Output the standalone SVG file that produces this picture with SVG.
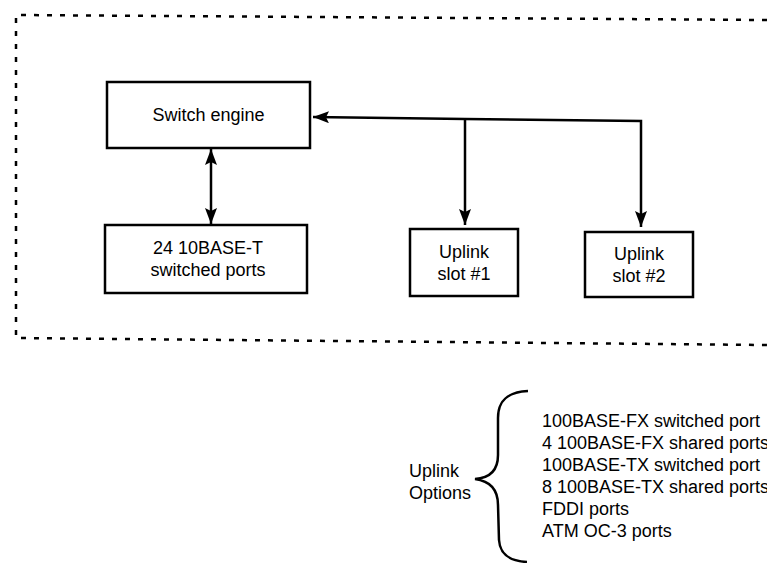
<svg xmlns="http://www.w3.org/2000/svg" width="767" height="563" viewBox="0 0 767 563">
<defs>
<marker id="ah" viewBox="0 0 16 12" refX="16" refY="6" markerWidth="16" markerHeight="12" markerUnits="userSpaceOnUse" orient="auto-start-reverse">
<path d="M0,0 L16,6 L0,12 L3,6 Z" fill="#000"/>
</marker>
<style>
.box{fill:#fff;stroke:#000;stroke-width:2.5}
.t{font-family:"Liberation Sans",Arial,sans-serif;font-size:18px;fill:#000}
.c{text-anchor:middle}
.ln{fill:none;stroke:#000;stroke-width:2.5}
.dash{fill:none;stroke:#000;stroke-width:2.5;stroke-dasharray:5 8}
</style>
</defs>
<rect width="767" height="563" fill="#fff"/>
<g id="boundary">
<path class="dash" d="M767,20 L16,15 L16,338 L767,345"/>
</g>
<g id="connectors">
<path class="ln" d="M641,227 L641,121 L465,119 L313,117" marker-start="url(#ah)" marker-end="url(#ah)"/>
<path class="ln" d="M465,119 L465,225" marker-end="url(#ah)"/>
<path class="ln" d="M211,149 L211,224" marker-start="url(#ah)" marker-end="url(#ah)"/>
</g>
<g id="switch-engine">
<rect class="box" x="107" y="82" width="203" height="66"/>
<text class="t c" x="208.5" y="121">Switch engine</text>
</g>
<g id="ports">
<rect class="box" x="105" y="225" width="202" height="68"/>
<text class="t c" x="208" y="254">24 10BASE-T</text>
<text class="t c" x="208" y="276">switched ports</text>
</g>
<g id="slot1">
<rect class="box" x="410" y="229" width="108" height="67"/>
<text class="t c" x="464" y="258">Uplink</text>
<text class="t c" x="464" y="280">slot #1</text>
</g>
<g id="slot2">
<rect class="box" x="585" y="232" width="108" height="65"/>
<text class="t c" x="639" y="260">Uplink</text>
<text class="t c" x="639" y="282">slot #2</text>
</g>
<g id="uplink-options">
<text class="t" x="409" y="477">Uplink</text>
<text class="t" x="409" y="499">Options</text>
<path class="ln" d="M528,391 C508,392 498,400 498,418 L498,455 C498,470 490,478 475,479 C490,481 498,490 498,505 L499,540 C500,555 510,561 527,562"/>
<text class="t" x="542" y="427">100BASE-FX switched port</text>
<text class="t" x="542" y="449">4 100BASE-FX shared ports</text>
<text class="t" x="542" y="471">100BASE-TX switched port</text>
<text class="t" x="542" y="493">8 100BASE-TX shared ports</text>
<text class="t" x="542" y="515">FDDI ports</text>
<text class="t" x="542" y="537">ATM OC-3 ports</text>
</g>
</svg>
